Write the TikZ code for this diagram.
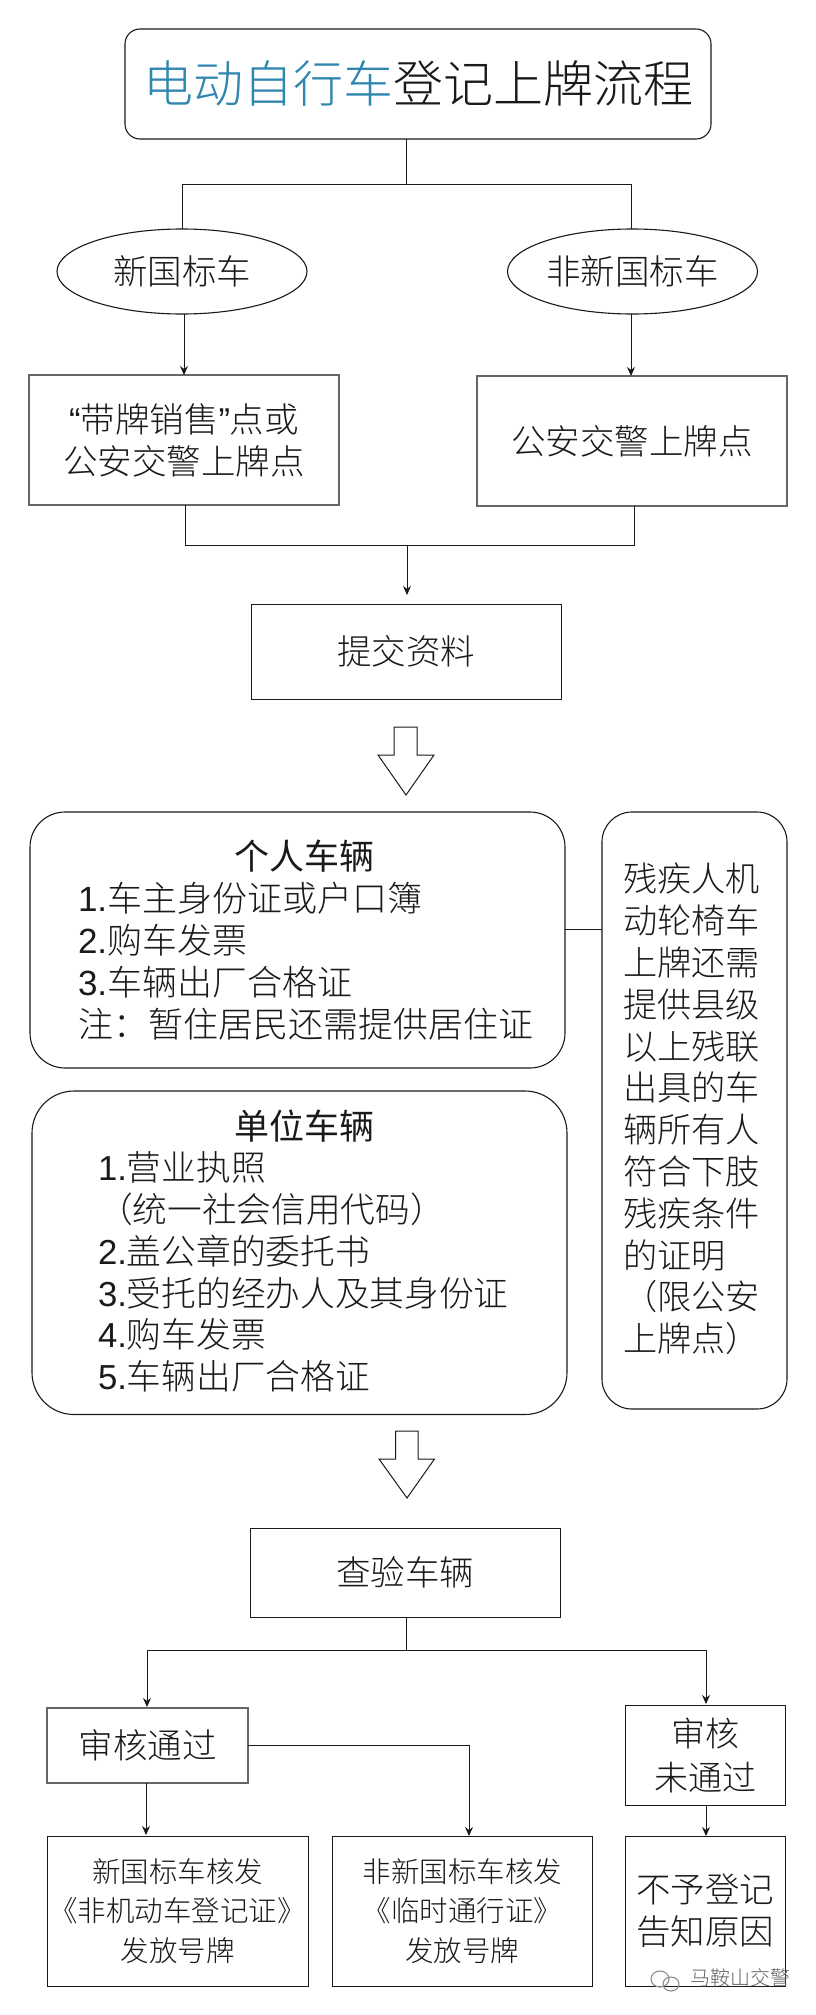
\documentclass[tikz,border=0pt]{standalone}
\usepackage{fontspec}
\usetikzlibrary{arrows.meta,shapes.geometric,calc}
\setmainfont{Liberation Sans}
\newfontfamily\cjk{Noto Sans CJK SC Light}
\newfontfamily\cjkb{Noto Sans CJK SC}
\newfontfamily\arial{Liberation Sans}
\definecolor{titleblue}{HTML}{2F86AE}
\definecolor{ink}{HTML}{1A1A1A}
\newcommand{\fs}[2]{\fontsize{#1}{#2}\selectfont}
\tikzset{
  shapeline/.style={draw=ink,line width=1.1pt,fill=white,inner sep=0pt,outer sep=0pt,text=ink,align=center},
  plainbox/.style={shapeline,rectangle,line width=0.9pt},
  grayline/.style={shapeline,rectangle,draw=black!60,line width=1.4pt},
  oval/.style={shapeline,ellipse,minimum width=250pt,minimum height=85pt,font=\cjk\fs{34.5}{42}},
  rbox/.style={shapeline,rectangle,rounded corners=#1},
  bigtext/.style={font=\cjk\fs{34.5}{42}},
  smalltext/.style={font=\cjk\fs{28.5}{39.5}},
  lbl/.style={inner sep=0pt,outer sep=0pt,text=ink,align=left,font=\cjk\fs{35}{42}},
  conn/.style={draw=ink,line width=0.9pt},
  arr/.style={conn,-{Stealth[length=9pt,width=8pt]}},
  hollow/.style={draw=ink,line width=1pt,fill=white,line join=miter},
  wmark/.style={inner sep=0pt,text=black!62,font=\cjk\fs{20}{20}}
}
\begin{document}
\begin{tikzpicture}[x=1pt,y=-1pt]
\useasboundingbox[fill=white] (0,0) rectangle (816,2015);

% nodes
\node[rbox=15pt,minimum width=586pt,minimum height=110pt,font=\cjk\fs{50}{50}] (title) at (418,84) {\textcolor{titleblue}{电动自行车}登记上牌流程};
\node[oval] (oa) at (182,271.5) {新国标车};
\node[oval] (ob) at (632.5,271.5) {非新国标车};
\node[grayline,bigtext,minimum width=310pt,minimum height=130pt] (ba) at (184,440) {{\arial “}带牌销售{\arial ”}点或\\公安交警上牌点};
\node[grayline,bigtext,minimum width=310pt,minimum height=130pt] (bb) at (632,441) {公安交警上牌点};
\node[plainbox,bigtext,minimum width=310pt,minimum height=95pt] (submit) at (406,651.5) {提交资料};

\node[rbox=35pt,minimum width=535pt,minimum height=256pt] (person) at (297.5,940) {};
\node[rbox=42pt,minimum width=535pt,minimum height=323.5pt] (unit) at (299.5,1252.75) {};
\node[rbox=30pt,minimum width=185pt,minimum height=597pt] (note) at (694.5,1110.5) {};

\node[lbl,font=\cjkb\fs{35}{42}] (personh) at (304,856) {个人车辆};
\node[lbl,anchor=west] (personl) at (78,961) {{\arial 1.}车主身份证或户口簿\\{\arial 2.}购车发票\\{\arial 3.}车辆出厂合格证\\注：暂住居民还需提供居住证};
\node[lbl,font=\cjkb\fs{35}{42}] (unith) at (304,1126) {单位车辆};
\node[lbl,anchor=west,font=\cjk\fs{34.7}{41.8}] (unitl) at (98,1272) {{\arial 1.}营业执照\\（统一社会信用代码）\\{\arial 2.}盖公章的委托书\\{\arial 3.}受托的经办人及其身份证\\{\arial 4.}购车发票\\{\arial 5.}车辆出厂合格证};
\node[lbl,anchor=west,font=\cjk\fs{34.2}{41.8}] (notel) at (623,1109) {残疾人机\\动轮椅车\\上牌还需\\提供县级\\以上残联\\出具的车\\辆所有人\\符合下肢\\残疾条件\\的证明\\（限公安\\上牌点）};

\node[plainbox,bigtext,minimum width=310pt,minimum height=89pt] (check) at (405,1572.5) {查验车辆};
\node[grayline,bigtext,minimum width=201pt,minimum height=75pt] (pass) at (147.5,1745.5) {审核通过};
\node[plainbox,font=\cjk\fs{34}{44},minimum width=159.5pt,minimum height=100pt] (fail) at (705.25,1755) {审核\\未通过};
\node[plainbox,smalltext,minimum width=261pt,minimum height=150pt] (ra) at (177.5,1911) {新国标车核发\\《非机动车登记证》\\发放号牌};
\node[plainbox,smalltext,minimum width=259.5pt,minimum height=150pt] (rb) at (462.25,1911) {非新国标车核发\\《临时通行证》\\发放号牌};
\node[plainbox,bigtext,minimum width=159.5pt,minimum height=150pt] (rc) at (705.25,1911) {不予登记\\告知原因};

% connector junctions
\coordinate (j1) at (406.5,184);
\coordinate (j1a) at (182,184);
\coordinate (j1b) at (631,184);
\coordinate (j2) at (407,545);
\coordinate (j2a) at (185,545);
\coordinate (j2b) at (634,545);
\coordinate (j3) at (406.5,1650);
\coordinate (j3a) at (147,1650);
\coordinate (j3b) at (706,1650);
\coordinate (j4) at (469,1745);

\draw[conn] (j1 |- title.south) -- (j1);
\draw[conn] (j1a |- oa.north) -- (j1a) -- (j1b) -- (j1b |- ob.north);
\draw[arr] (184,0 |- oa.south) -- (184,0 |- ba.north);
\draw[arr] (631,0 |- ob.south) -- (631,0 |- bb.north);
\draw[conn] (j2a |- ba.south) -- (j2a) -- (j2b) -- (j2b |- bb.south);
\draw[arr] (j2) -- ($(j2 |- submit.north)+(0,-9)$);
\draw[conn] (person.east |- 0,929.5) -- (note.west |- 0,929.5);
\draw[conn] (j3 |- check.south) -- (j3);
\draw[arr] (j3) -- (j3a) -- ($(j3a |- pass.north)+(0,-1)$);
\draw[arr] (j3) -- (j3b) -- ($(j3b |- fail.north)+(0,-1)$);
\draw[arr] (146,0 |- pass.south) -- ($(146,0 |- ra.north)+(0,-1)$);
\draw[arr] (pass.east |- j4) -- (j4) -- (j4 |- rb.north);
\draw[arr] (706,0 |- fail.south) -- (706,0 |- rc.north);

% hollow block arrows
\draw[hollow] (394,727) -- (417,727) -- (417,755) -- (434,755) -- (406,795) -- (378,755) -- (394,755) -- cycle;
\draw[hollow] (395.5,1431) -- (418,1431) -- (418,1459) -- (434.5,1459) -- (407,1498) -- (379,1459) -- (395.5,1459) -- cycle;

% watermark
\draw[black!45,line width=1.1pt] (660,1979) ellipse (9pt and 8pt);
\draw[black!45,line width=1.1pt] (671,1984) ellipse (8pt and 7pt);
\node[wmark,anchor=west] (wm) at (690,1978) {马鞍山交警};
\end{tikzpicture}
\end{document}
